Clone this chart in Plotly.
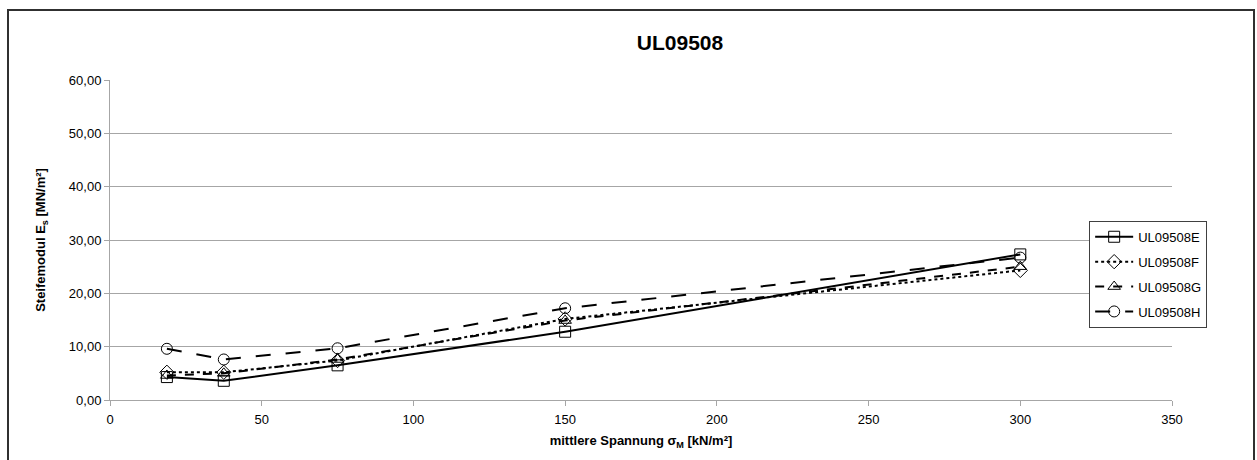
import plotly.graph_objects as go

x_vals = [18.75, 37.5, 75, 150, 300]
e_vals = [4.3, 3.6, 6.5, 12.8, 27.3]
f_vals = [5.2, 5.2, 7.4, 15.2, 24.3]
g_vals = [4.6, 5.0, 7.6, 14.9, 25.0]
h_vals = [9.6, 7.6, 9.7, 17.2, 26.7]

series = [
    ("UL09508E", e_vals, "solid", "square-open"),
    ("UL09508F", f_vals, "dot", "diamond-open"),
    ("UL09508G", g_vals, "dash", "triangle-up-open"),
    ("UL09508H", h_vals, "longdash", "circle-open"),
]

fig = go.Figure()
for name, vals, dash, sym in series:
    fig.add_trace(go.Scatter(
        x=x_vals, y=vals, name=name, mode="lines+markers", legendgroup=name,
        line=dict(color="black", width=2, dash=dash),
        marker=dict(symbol=sym, size=11, color="black", line=dict(width=1, color="black")),
    ))

font = "Liberation Sans, Arial, sans-serif"
fig.update_layout(
    width=1257, height=460,
    paper_bgcolor="white", plot_bgcolor="white",
    margin=dict(l=110, r=85, t=80, b=60),
    separators=",.",
    font=dict(family=font, size=13, color="black"),
    title=dict(text="<b>UL09508</b>", x=0.541, xanchor="center", y=0.908, yanchor="middle",
               font=dict(size=21, family=font, color="black")),
    showlegend=True,
    legend=dict(x=0.922, y=0.56, xanchor="left", yanchor="top",
                bordercolor="#404040", borderwidth=1, bgcolor="white",
                font=dict(size=13, family=font), tracegroupgap=5,
                itemwidth=38),
    xaxis=dict(range=[0, 350], tickvals=[0, 50, 100, 150, 200, 250, 300, 350],
               showgrid=False, showline=True, linecolor="#a6a6a6", linewidth=1,
               ticks="outside", tickcolor="#a6a6a6", ticklen=5,
               ticklabelstandoff=2, tickfont=dict(size=13),
               zeroline=False,
               title=dict(text="<b>mittlere Spannung σ<sub>M</sub> [kN/m²]</b>",
                          font=dict(size=13, family=font), standoff=10)),
    yaxis=dict(range=[0, 60], tickvals=[0, 10, 20, 30, 40, 50, 60], tickformat=".2f",
               showgrid=True, gridcolor="#a6a6a6", gridwidth=1,
               showline=True, linecolor="#a6a6a6", linewidth=1,
               ticks="outside", tickcolor="#a6a6a6", ticklen=5,
               tickfont=dict(size=13),
               zeroline=False,
               title=dict(text="<b>Steifemodul E<sub>s</sub> [MN/m²]</b>",
                          font=dict(size=13, family=font), standoff=20)),
)

fig.add_shape(type="rect", xref="paper", yref="paper",
              x0=(8 - 110) / 1062, x1=(1254 - 110) / 1062,
              y0=-0.4, y1=(400 - 10) / 320,
              line=dict(color="#303030", width=2), fillcolor="rgba(0,0,0,0)", layer="below")

fig.write_html("out.html")
